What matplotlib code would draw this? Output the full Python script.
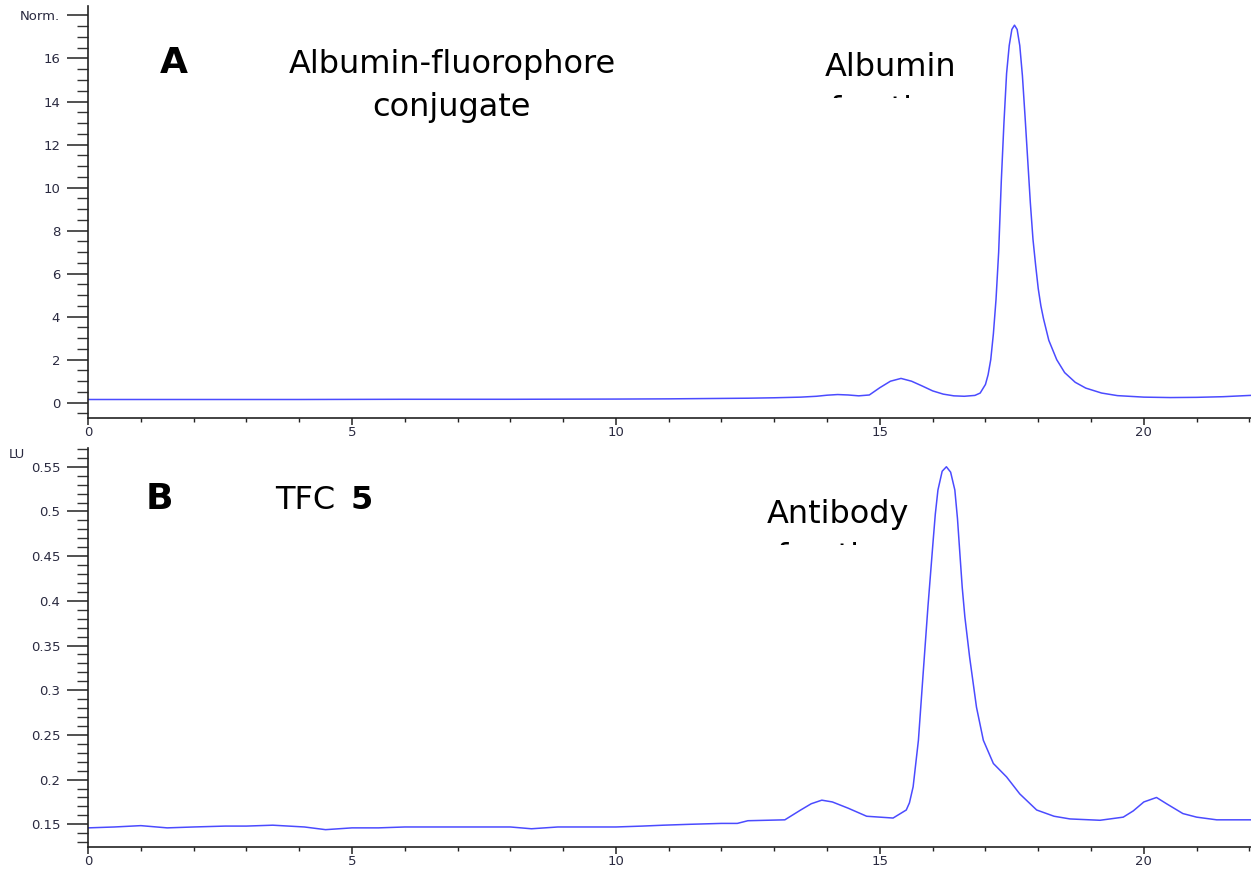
import numpy as np
import matplotlib
matplotlib.use("Agg")
import matplotlib.pyplot as plt
from matplotlib.ticker import MultipleLocator, FixedLocator
from matplotlib.transforms import Bbox, TransformedBbox

# Chromatogram A: albumin-fluorophore conjugate (time in min, normalised signal)
waktu_a = [0, 2, 4, 6, 8, 10, 11, 12, 12.5, 13, 13.5, 13.8, 14.0, 14.2, 14.4, 14.6,
           14.8, 15.0, 15.2, 15.4, 15.6, 15.8, 16.0, 16.2, 16.4, 16.6, 16.8, 16.9,
           17.0, 17.05, 17.1, 17.15, 17.2, 17.25, 17.3, 17.35, 17.4, 17.45, 17.5,
           17.55, 17.6, 17.65, 17.7, 17.75, 17.8, 17.85, 17.9, 17.95, 18.0, 18.05,
           18.1, 18.2, 18.35, 18.5, 18.7, 18.9, 19.2, 19.5, 20.0, 20.5, 21.0, 21.5, 22.1]
sinyal_a = [0.15, 0.15, 0.15, 0.16, 0.16, 0.17, 0.18, 0.20, 0.21, 0.23, 0.26, 0.30,
            0.35, 0.38, 0.36, 0.32, 0.36, 0.70, 1.00, 1.13, 1.00, 0.78, 0.55, 0.40,
            0.32, 0.30, 0.34, 0.45, 0.85, 1.3, 2.0, 3.2, 4.8, 7.0, 10.3, 13.0, 15.3,
            16.6, 17.35, 17.55, 17.35, 16.6, 15.2, 13.3, 11.3, 9.3, 7.6, 6.4, 5.3,
            4.5, 3.9, 2.9, 2.0, 1.4, 0.95, 0.68, 0.45, 0.33, 0.26, 0.24, 0.25, 0.28, 0.35]

# Chromatogram B: TFC 5 (time in min, LU)
waktu_b = [0, 0.5, 1, 1.5, 2, 2.6, 3, 3.5, 4.1, 4.5, 5, 5.5, 6, 6.7, 7.5, 8, 8.4,
           8.9, 9.5, 10, 10.5, 10.9, 11.4, 12, 12.3, 12.5, 13.2, 13.5, 13.7, 13.9,
           14.1, 14.4, 14.75, 15.25, 15.5, 15.56, 15.63, 15.73, 15.82, 15.91, 16.01,
           16.05, 16.1, 16.18, 16.26, 16.34, 16.42, 16.47, 16.52, 16.56, 16.61, 16.7,
           16.83, 16.96, 17.15, 17.4, 17.65, 17.97, 18.3, 18.6, 19.17, 19.61, 19.8,
           20.0, 20.24, 20.43, 20.74, 21.0, 21.38, 22.1]
sinyal_b = [0.146, 0.147, 0.1485, 0.146, 0.147, 0.148, 0.148, 0.149, 0.147, 0.144,
            0.146, 0.146, 0.147, 0.147, 0.147, 0.147, 0.145, 0.147, 0.147, 0.147,
            0.148, 0.149, 0.150, 0.151, 0.151, 0.154, 0.155, 0.166, 0.173, 0.177,
            0.175, 0.168, 0.159, 0.157, 0.166, 0.174, 0.192, 0.244, 0.319, 0.393,
            0.468, 0.497, 0.524, 0.545, 0.550, 0.544, 0.524, 0.492, 0.449, 0.415,
            0.382, 0.337, 0.281, 0.244, 0.218, 0.203, 0.184, 0.166, 0.159, 0.156,
            0.1545, 0.158, 0.165, 0.175, 0.180, 0.173, 0.162, 0.158, 0.155, 0.155]

label_y_a = ['0', '2', '4', '6', '8', '10', '12', '14', '16', 'Norm.']
label_y_b = ['0.15', '0.2', '0.25', '0.3', '0.35', '0.4', '0.45', '0.5', '0.55']

W, H = 1251, 871
warna_garis = '#4b4bff'
warna_teks = '#2a2a40'

fig = plt.figure(figsize=(W / 100, H / 100), dpi=100)


def px(x, y):
    # konversi piksel gambar -> koordinat figure
    return x / W, 1 - y / H


def atur_sumbu(ax):
    for s in ['top', 'right']:
        ax.spines[s].set_visible(False)
    for s in ['left', 'bottom']:
        ax.spines[s].set_linewidth(1.2)
        ax.spines[s].set_color('#222222')
    ax.set_xlim(0, 22.03)
    ax.xaxis.set_major_locator(MultipleLocator(5))
    ax.xaxis.set_minor_locator(MultipleLocator(1))
    ax.tick_params(axis='x', which='major', length=5, width=1.1, pad=1,
                   labelsize=9.5, labelcolor=warna_teks, color='#222222')
    ax.tick_params(axis='x', which='minor', length=3, width=1.0, color='#222222')
    ax.tick_params(axis='y', which='major', length=15, width=1.1, pad=5,
                   labelsize=9.5, labelcolor=warna_teks, color='#222222')
    ax.tick_params(axis='y', which='minor', length=8, width=1.0, color='#333333')


kiri = 88 / W
lebar = 1 - kiri

# Panel A
ax1 = fig.add_axes([kiri, (H - 418) / H, lebar, (418 - 6) / H])
ax1.plot(waktu_a, sinyal_a, color=warna_garis, lw=1.1)
atur_sumbu(ax1)
ax1.set_ylim(-0.71, 18.44)
ax1.yaxis.set_major_locator(FixedLocator(np.arange(0, 19, 2)))
ax1.yaxis.set_minor_locator(MultipleLocator(0.5))
ax1.set_yticklabels(label_y_a)

# Panel B
ax2 = fig.add_axes([kiri, (H - 847) / H, lebar, (847 - 448) / H])
ax2.plot(waktu_b, sinyal_b, color=warna_garis, lw=1.1)
atur_sumbu(ax2)
ax2.set_ylim(0.1246, 0.571)
ax2.yaxis.set_major_locator(FixedLocator(np.arange(0.15, 0.56, 0.05)))
ax2.yaxis.set_minor_locator(MultipleLocator(0.01))
ax2.set_yticklabels(label_y_b)
fig.text(*px(9, 455), 'LU', fontsize=9.5, color=warna_teks, va='center', ha='left')

# Anotasi
fs = 23
fig.text(*px(160, 73), 'A', fontsize=26, fontweight='bold', va='baseline')
fig.text(*px(452, 73), 'Albumin-fluorophore', fontsize=fs, ha='center', va='baseline')
fig.text(*px(452, 116), 'conjugate', fontsize=fs, ha='center', va='baseline')
fig.text(*px(891, 76), 'Albumin', fontsize=fs, ha='center', va='baseline')
t1 = fig.text(*px(891, 119), 'fraction', fontsize=fs, ha='center', va='baseline')
t1.set_clip_box(TransformedBbox(Bbox([[0, 1 - 98 / H], [1, 1]]), fig.transFigure))
t1.set_clip_on(True)

fig.text(*px(146, 509), 'B', fontsize=26, fontweight='bold', va='baseline')
fig.text(*px(275, 509), 'TFC', fontsize=fs, va='baseline')
fig.text(*px(351, 509), '5', fontsize=fs, fontweight='bold', va='baseline')
fig.text(*px(838, 523), 'Antibody', fontsize=fs, ha='center', va='baseline')
t2 = fig.text(*px(838, 566), 'fraction', fontsize=fs, ha='center', va='baseline')
t2.set_clip_box(TransformedBbox(Bbox([[0, 1 - 545 / H], [1, 1 - 470 / H]]), fig.transFigure))
t2.set_clip_on(True)

fig.savefig('out.png', dpi=100)
